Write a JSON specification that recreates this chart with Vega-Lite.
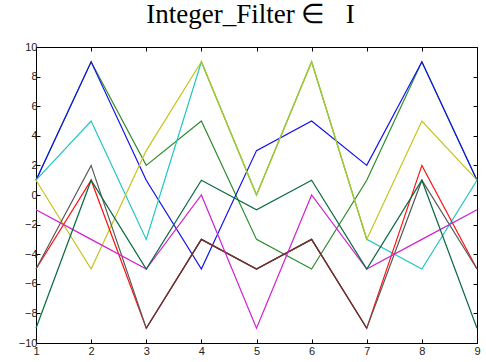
{
  "$schema": "https://vega.github.io/schema/vega-lite/v6.json",
  "autosize": "none",
  "width": 441,
  "height": 296,
  "padding": {"left": 36, "top": 47, "right": 9, "bottom": 19},
  "background": "white",
  "title": {"text": "Integer_Filter ∈\u00a0\u00a0 I", "font": "Liberation Serif", "fontSize": 27, "fontWeight": "normal", "color": "#000", "baseline": "alphabetic", "offset": -9, "dx": -6},
  "config": {
    "view": {"stroke": "#000", "strokeWidth": 1},
    "axis": {"domain": false, "grid": false, "labelFont": "Liberation Sans", "labelFontSize": 11, "labelColor": "#222", "tickColor": "#000", "tickSize": -4}
  },
  "data": {"values": [
    {"s":"a","x":1,"y":1},{"s":"a","x":2,"y":9},{"s":"a","x":3,"y":2},{"s":"a","x":4,"y":5},{"s":"a","x":5,"y":-3},{"s":"a","x":6,"y":-5},{"s":"a","x":7,"y":1},{"s":"a","x":8,"y":9},{"s":"a","x":9,"y":1},
    {"s":"b","x":1,"y":1},{"s":"b","x":2,"y":9},{"s":"b","x":3,"y":1},{"s":"b","x":4,"y":-5},{"s":"b","x":5,"y":3},{"s":"b","x":6,"y":5},{"s":"b","x":7,"y":2},{"s":"b","x":8,"y":9},{"s":"b","x":9,"y":1},
    {"s":"c","x":1,"y":1},{"s":"c","x":2,"y":5},{"s":"c","x":3,"y":-3},{"s":"c","x":4,"y":9},{"s":"c","x":5,"y":0},{"s":"c","x":6,"y":9},{"s":"c","x":7,"y":-3},{"s":"c","x":8,"y":-5},{"s":"c","x":9,"y":1},
    {"s":"d","x":1,"y":1},{"s":"d","x":2,"y":-5},{"s":"d","x":3,"y":3},{"s":"d","x":4,"y":9},{"s":"d","x":5,"y":0},{"s":"d","x":6,"y":9},{"s":"d","x":7,"y":-3},{"s":"d","x":8,"y":5},{"s":"d","x":9,"y":1},
    {"s":"e","x":4,"y":9},{"s":"e","x":5,"y":0},{"s":"e","x":6,"y":9},{"s":"e","x":7,"y":-3},
    {"s":"f","x":1,"y":-5},{"s":"f","x":2,"y":1},{"s":"f","x":3,"y":-9},{"s":"f","x":4,"y":-3},{"s":"f","x":5,"y":-5},{"s":"f","x":6,"y":-3},{"s":"f","x":7,"y":-9},{"s":"f","x":8,"y":2},{"s":"f","x":9,"y":-5},
    {"s":"g","x":1,"y":-5},{"s":"g","x":2,"y":2},{"s":"g","x":3,"y":-9},{"s":"g","x":4,"y":-3},{"s":"g","x":5,"y":-5},{"s":"g","x":6,"y":-3},{"s":"g","x":7,"y":-9},{"s":"g","x":8,"y":1},{"s":"g","x":9,"y":-5},
    {"s":"h","x":3,"y":-9},{"s":"h","x":4,"y":-3},{"s":"h","x":5,"y":-5},{"s":"h","x":6,"y":-3},{"s":"h","x":7,"y":-9},
    {"s":"i","x":1,"y":-1},{"s":"i","x":2,"y":-3},{"s":"i","x":3,"y":-5},{"s":"i","x":4,"y":0},{"s":"i","x":5,"y":-9},{"s":"i","x":6,"y":0},{"s":"i","x":7,"y":-5},{"s":"i","x":8,"y":-3},{"s":"i","x":9,"y":-1},
    {"s":"j","x":1,"y":-9},{"s":"j","x":2,"y":1},{"s":"j","x":3,"y":-5},{"s":"j","x":4,"y":1},{"s":"j","x":5,"y":-1},{"s":"j","x":6,"y":1},{"s":"j","x":7,"y":-5},{"s":"j","x":8,"y":1},{"s":"j","x":9,"y":-9}
  ]},
  "layer": [
    {
      "mark": {"type": "line", "strokeWidth": 1.2},
      "encoding": {
        "x": {"field": "x", "type": "quantitative", "scale": {"domain": [1, 9], "nice": false, "zero": false}, "axis": {"orient": "bottom", "values": [1,2,3,4,5,6,7,8,9], "title": null, "labelPadding": 6, "labelFlush": false}},
        "y": {"field": "y", "type": "quantitative", "scale": {"domain": [-10, 10], "nice": false, "zero": false}, "axis": {"orient": "left", "values": [-10,-8,-6,-4,-2,0,2,4,6,8,10], "title": null, "labelPadding": 3, "labelFlush": false}},
        "color": {"field": "s", "type": "nominal", "legend": null, "scale": {"domain": ["a","b","c","d","e","f","g","h","i","j"], "range": ["#2a8c2a","#1010f0","#20c4c4","#c4c41c","#a0c832","#ff1010","#585858","#663333","#d020d0","#0a6a40"]}},
        "order": {"field": "x", "type": "quantitative"}
      }
    },
    {
      "mark": {"type": "line", "opacity": 0},
      "encoding": {
        "x": {"field": "x", "type": "quantitative", "axis": {"orient": "top", "values": [1,2,3,4,5,6,7,8,9], "title": null, "labels": false}},
        "y": {"field": "y", "type": "quantitative", "axis": {"orient": "right", "values": [-10,-8,-6,-4,-2,0,2,4,6,8,10], "title": null, "labels": false}},
        "detail": {"field": "s"}
      }
    }
  ]
}
